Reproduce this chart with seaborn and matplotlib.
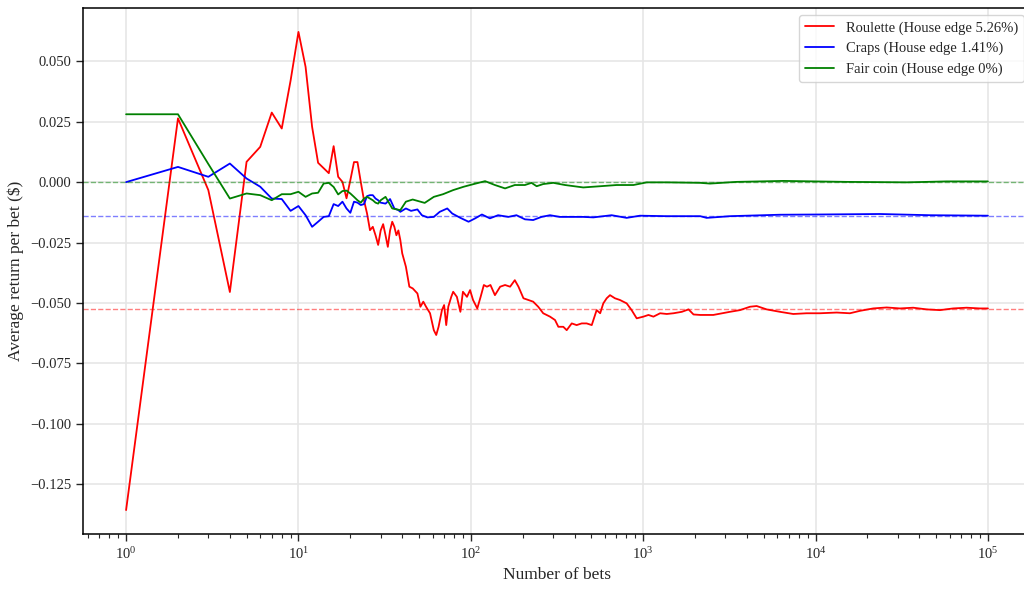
import pandas as pd
import matplotlib
matplotlib.use('Agg')
import matplotlib.pyplot as plt
import seaborn as sns

# values (running average return per bet)
roulette_n = [1, 2, 3, 4, 5, 6, 7, 8, 9, 10, 11, 12, 13, 14, 15, 16, 17, 18, 19, 20,
              21, 22, 23, 24, 25, 26, 27, 28, 29, 30, 31, 32, 33, 34, 35, 36, 37, 38, 39, 40,
              41, 42, 44, 46, 49, 51, 53, 55, 58, 61, 63, 65, 68, 70, 72, 74, 77, 79, 83, 87,
              90, 95, 99, 103, 109, 114, 119, 124, 130, 138, 148, 158, 169, 180, 189, 202, 216,
              230, 246, 263, 288, 308, 322, 344, 360, 385, 411, 440, 470, 503, 537, 563, 587,
              614, 642, 686, 733, 802, 857, 917, 1003, 1073, 1147, 1254, 1371, 1499, 1676, 1833,
              1959, 2143, 2550, 3188, 3643, 4164, 4553, 5204, 6217, 7425, 8867, 10605,
              13260, 15830, 18090, 21610, 25850, 30870, 36870, 44110, 52680, 62930, 75230,
              89860, 100000]
roulette_avg = [-0.1358, 0.0264, -0.0033, -0.0455, 0.0084, 0.0146, 0.0288, 0.0222, 0.042, 0.0622,
                0.0477, 0.0229, 0.008, 0.0058, 0.0037, 0.0149, 0.0022, 0.0001, -0.0067, 0.0008,
                0.0083, 0.0083, 0.0, -0.0075, -0.013, -0.0199, -0.0185, -0.022, -0.026, -0.02,
                -0.0174, -0.022, -0.0268, -0.020, -0.0164, -0.0185, -0.022, -0.020, -0.024, -0.0295,
                -0.0323, -0.035, -0.0433, -0.044, -0.0461, -0.0516, -0.0495, -0.0516, -0.0543, -0.0613,
                -0.0633, -0.0599, -0.053, -0.0509, -0.0592, -0.0516, -0.0475, -0.0454, -0.0475, -0.0537,
                -0.0454, -0.0475, -0.0447, -0.0488, -0.0523, -0.0475, -0.0426, -0.0433, -0.0426,
                -0.0468, -0.0433, -0.0426, -0.0433, -0.0406, -0.0433, -0.0481, -0.0488,
                -0.0495, -0.0516, -0.0543, -0.0557, -0.0571, -0.0599, -0.0599, -0.0613, -0.0585,
                -0.0592, -0.0585, -0.0585, -0.0592, -0.053, -0.0543, -0.0502,
                -0.0481, -0.0468, -0.0481, -0.0488, -0.0502, -0.053, -0.0564, -0.0557, -0.055,
                -0.0557, -0.0543, -0.0546, -0.0543, -0.0537, -0.0527,
                -0.0548, -0.055, -0.055, -0.0537, -0.053, -0.0516, -0.0513, -0.0527, -0.0537,
                -0.0546, -0.0543, -0.0543, -0.054, -0.0543, -0.0533, -0.0523, -0.0519, -0.0523,
                -0.052, -0.0527, -0.053, -0.0523, -0.052, -0.0523, -0.0523]

craps_n = [1, 2, 3, 4, 5, 6, 7, 8, 9, 10, 11, 12, 13, 14, 15, 16, 17, 18, 19, 20,
           21, 22, 23, 24, 25, 26, 27, 28, 29, 30, 32, 33, 34, 36, 38, 39, 42, 45, 49, 52,
           56, 61, 66, 73, 78, 87, 97, 106, 116, 129, 144, 165, 184, 206, 230, 257, 288,
           328, 374, 449, 514, 656, 802, 958, 1371, 2143, 2335, 3188, 6217, 10605, 23630,
           46090, 100000]
craps_avg = [0.0, 0.0063, 0.0022, 0.0077, 0.0015, -0.0019, -0.0068, -0.007, -0.0119, -0.0099,
             -0.0137, -0.0185, -0.0164, -0.0144, -0.0141, -0.0091, -0.0099, -0.0081, -0.0109, -0.0127,
             -0.0081, -0.0085, -0.0095, -0.0091, -0.0058, -0.0054, -0.0054, -0.0068, -0.0075, -0.0085,
             -0.0089, -0.008, -0.007, -0.0109, -0.0116, -0.0123, -0.0109, -0.0119, -0.0113, -0.0137,
             -0.0146, -0.0144, -0.0123, -0.0109, -0.013, -0.0148, -0.0164, -0.015, -0.0134, -0.015,
             -0.0137, -0.0144, -0.0137, -0.0154, -0.0157, -0.0144, -0.0137,
             -0.0144, -0.0144, -0.0144, -0.0146, -0.0137, -0.0148, -0.0139, -0.0141, -0.0141,
             -0.0148, -0.0141, -0.0135, -0.0134, -0.0132, -0.0137, -0.0139]

coin_n = [1, 2, 3, 4, 5, 6, 7, 8, 9, 10, 11, 12, 13, 14, 15, 16, 17, 18, 19, 20,
          21, 22, 23, 24, 25, 26, 27, 28, 29, 30, 32, 35, 39, 42, 46, 51, 54, 61, 69, 79,
          91, 104, 121, 138, 158, 180, 206, 225, 241, 263, 301, 352, 449, 563, 701, 877,
          1048, 1371, 2143, 2441, 3486, 6495, 15150, 33760, 57600, 100000]
coin_avg = [0.0281, 0.0281, 0.0075, -0.0068, -0.0047, -0.0054, -0.0075, -0.005, -0.005, -0.004,
            -0.0061, -0.0047, -0.0044, -0.0006, -0.0003, -0.002, -0.0051, -0.0037, -0.0035, -0.0047,
            -0.0061, -0.0075, -0.0085, -0.0068, -0.0061, -0.0068, -0.0075, -0.0085, -0.0089, -0.0075,
            -0.0061, -0.0109, -0.0116, -0.0081, -0.0072, -0.0081, -0.0086, -0.0061, -0.005, -0.0033,
            -0.0019, -0.0008, 0.0004, -0.0012, -0.0026, -0.0012, -0.0012, -0.0003, -0.0017, -0.0008,
            -0.0003, -0.0012, -0.0022, -0.0017, -0.0012, -0.0012,
            -0.0001, -0.0001, -0.0003, -0.0006, 0.0001, 0.0005, 0.0001, -0.0001, 0.0003, 0.0003]

labels = ['Roulette (House edge 5.26%)', 'Craps (House edge 1.41%)', 'Fair coin (House edge 0%)']
colors = ['red', 'blue', 'green']
house_edge = [-0.0526, -0.0141, 0.0]

df = pd.concat([
    pd.DataFrame({'bets': roulette_n, 'avg': roulette_avg, 'game': labels[0]}),
    pd.DataFrame({'bets': craps_n, 'avg': craps_avg, 'game': labels[1]}),
    pd.DataFrame({'bets': coin_n, 'avg': coin_avg, 'game': labels[2]}),
])

sns.set_style('ticks', {'axes.grid': True, 'grid.color': '#e6e6e6', 'axes.edgecolor': 'black'})
plt.rcParams['font.family'] = ['Liberation Serif', 'DejaVu Serif']
plt.rcParams['mathtext.fontset'] = 'stix'

fig = plt.figure(figsize=(10.24, 5.92), dpi=100)
ax = fig.add_axes([83 / 1024, 1 - 534 / 592, (1031 - 83) / 1024, (534 - 8) / 592])

sns.lineplot(data=df, x='bets', y='avg', hue='game', palette=dict(zip(labels, colors)),
             estimator=None, sort=False, linewidth=1.3, ax=ax)

# dashed lines at the theoretical house edge
for edge, c in zip(house_edge, colors):
    ax.axhline(edge, color=c, linestyle='--', linewidth=1, alpha=0.5)

ax.set_xscale('log')
ax.grid(True, which='major', color='#e6e6e6', linewidth=1.2)
ax.set_xlabel('Number of bets', fontsize=12.5)
ax.set_ylabel('Average return per bet ($)', fontsize=12.5)
ax.tick_params(axis='both', which='major', labelsize=10.5, length=5, width=1)
ax.tick_params(axis='x', which='minor', length=3, width=0.8)
for s in ax.spines.values():
    s.set_linewidth(1.1)

handles, labs = ax.get_legend_handles_labels()
ax.legend(handles[:3], labs[:3], loc='upper right', fontsize=10.5, frameon=True)

fig.savefig('out.png', dpi=100)
